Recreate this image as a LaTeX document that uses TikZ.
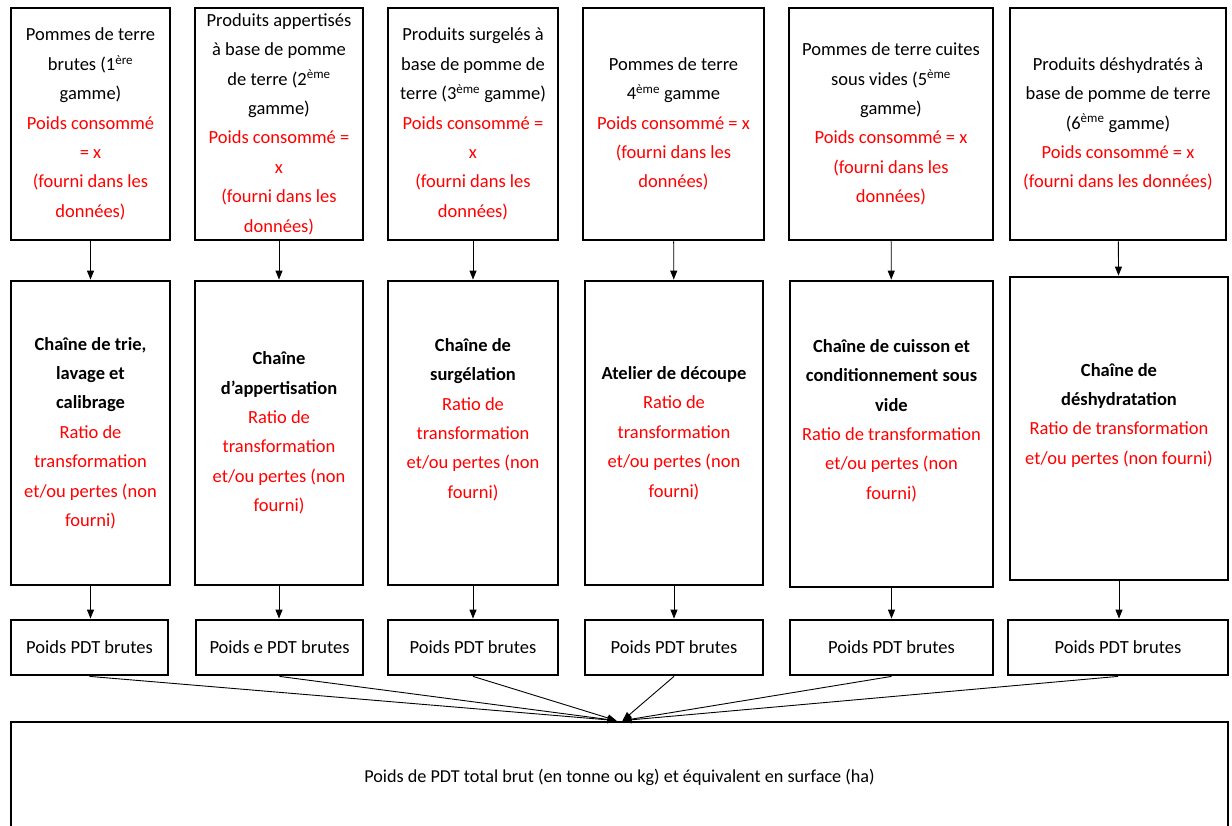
\documentclass[tikz,border=0pt]{standalone}
\usepackage{fontspec}
\setmainfont{Carlito}
\usetikzlibrary{arrows.meta}
\newcommand{\rouge}[1]{\textcolor{red}{#1}}

\begin{document}
\begin{tikzpicture}[x=1pt,y=1pt,
    box/.style={draw,line width=2.8pt,align=center,inner sep=0pt,font=\fontsize{18.5}{29.4}\selectfont},
    arr/.style={-{Triangle[length=9pt,width=7pt]},line width=0.9pt}]
        \useasboundingbox (0,0) rectangle (1232,825);
        % Draw top boxes (gammes)
        \node[box,minimum width=159,minimum height=232] (g1) at (90.5,701) {Pommes de terre\\brutes (1\textsuperscript{ère}\\gamme)\\\rouge{Poids consommé}\\\rouge{= x}\\\rouge{(fourni dans les}\\\rouge{données)}};
        \node[box,minimum width=168,minimum height=232] (g2) at (279,701) {Produits appertisés\\à base de pomme\\de terre (2\textsuperscript{ème}\\gamme)\\\rouge{Poids consommé =}\\\rouge{x}\\\rouge{(fourni dans les}\\\rouge{données)}};
        \node[box,minimum width=170,minimum height=232] (g3) at (473,701) {Produits surgelés à\\base de pomme de\\terre (3\textsuperscript{ème} gamme)\\\rouge{Poids consommé =}\\\rouge{x}\\\rouge{(fourni dans les}\\\rouge{données)}};
        \node[box,minimum width=181,minimum height=232] (g4) at (673.5,701) {Pommes de terre\\4\textsuperscript{ème} gamme\\\rouge{Poids consommé = x}\\\rouge{(fourni dans les}\\\rouge{données)}};
        \node[box,minimum width=204,minimum height=232] (g5) at (891,701) {Pommes de terre cuites\\sous vides (5\textsuperscript{ème}\\gamme)\\\rouge{Poids consommé = x}\\\rouge{(fourni dans les}\\\rouge{données)}};
        \node[box,minimum width=216,minimum height=232] (g6) at (1118,701) {Produits déshydratés à\\base de pomme de terre\\(6\textsuperscript{ème} gamme)\\\rouge{Poids consommé = x}\\\rouge{(fourni dans les données)}};
        % Draw middle boxes (chaines)
        \node[box,minimum width=159,minimum height=304] (c1) at (90.5,392) {\textbf{Chaîne de trie,}\\\textbf{lavage et}\\\textbf{calibrage}\\\rouge{Ratio de}\\\rouge{transformation}\\\rouge{et/ou pertes (non}\\\rouge{fourni)}};
        \node[box,minimum width=168,minimum height=304] (c2) at (279,392) {\textbf{Chaîne}\\\textbf{d’appertisation}\\\rouge{Ratio de}\\\rouge{transformation}\\\rouge{et/ou pertes (non}\\\rouge{fourni)}};
        \node[box,minimum width=170,minimum height=304] (c3) at (473,392) {\textbf{Chaîne de}\\\textbf{surgélation}\\\rouge{Ratio de}\\\rouge{transformation}\\\rouge{et/ou pertes (non}\\\rouge{fourni)}\\\mbox{}};
        \node[box,minimum width=178,minimum height=304] (c4) at (674,392) {\textbf{Atelier de découpe}\\\rouge{Ratio de}\\\rouge{transformation}\\\rouge{et/ou pertes (non}\\\rouge{fourni)}};
        \node[box,minimum width=203,minimum height=306] (c5) at (891.5,391) {\textbf{Chaîne de cuisson et}\\\textbf{conditionnement sous}\\\textbf{vide}\\\rouge{Ratio de transformation}\\\rouge{et/ou pertes (non}\\\rouge{fourni)}\\\mbox{}};
        \node[box,minimum width=218,minimum height=303] (c6) at (1119,396.5) {\textbf{Chaîne de}\\\textbf{déshydratation}\\\rouge{Ratio de transformation}\\\rouge{et/ou pertes (non fourni)}\\\mbox{}};
        % Draw bottom boxes (poids)
        \node[box,minimum width=157,minimum height=55] (p1) at (89.5,177.5) {Poids PDT brutes};
        \node[box,minimum width=167,minimum height=55] (p2) at (279.5,177.5) {Poids e PDT brutes};
        \node[box,minimum width=170,minimum height=55] (p3) at (473,177.5) {Poids PDT brutes};
        \node[box,minimum width=178,minimum height=55] (p4) at (674,177.5) {Poids PDT brutes};
        \node[box,minimum width=203,minimum height=55] (p5) at (891.5,177.5) {Poids PDT brutes};
        \node[box,minimum width=220,minimum height=55] (p6) at (1118,177.5) {Poids PDT brutes};
        % Total
        \node[box,minimum width=1217,minimum height=110,font=\fontsize{18.2}{22}\selectfont] (total) at (619.5,48) {Poids de PDT total brut (en tonne ou kg) et équivalent en surface (ha)};
        % Draw arrows
        \draw[arr] (g1) -- (c1);
        \draw[arr] (g2) -- (c2);
        \draw[arr] (g3) -- (c3);
        \draw[arr] (g4) -- (c4);
        \draw[arr] (g5) -- (c5);
        \draw[arr] (g6) -- (c6);
        \draw[arr] (c1) -- (c1 |- p1.north);
        \draw[arr] (c2) -- (c2 |- p2.north);
        \draw[arr] (c3) -- (p3);
        \draw[arr] (c4) -- (p4);
        \draw[arr] (c5) -- (p5);
        \draw[arr] (c6) -- (c6 |- p6.north);
        \draw[arr] (p1.south) -- ([xshift=-3]total.north);
        \draw[arr] (p2.south) -- ([xshift=-3]total.north);
        \draw[arr] (p3.south) -- ([xshift=-3]total.north);
        \draw[arr] (p4.south) -- ([xshift=3]total.north);
        \draw[arr] (p5.south) -- ([xshift=3]total.north);
        \draw[arr] (p6.south) -- ([xshift=3]total.north);
      \end{tikzpicture}
\end{document}
